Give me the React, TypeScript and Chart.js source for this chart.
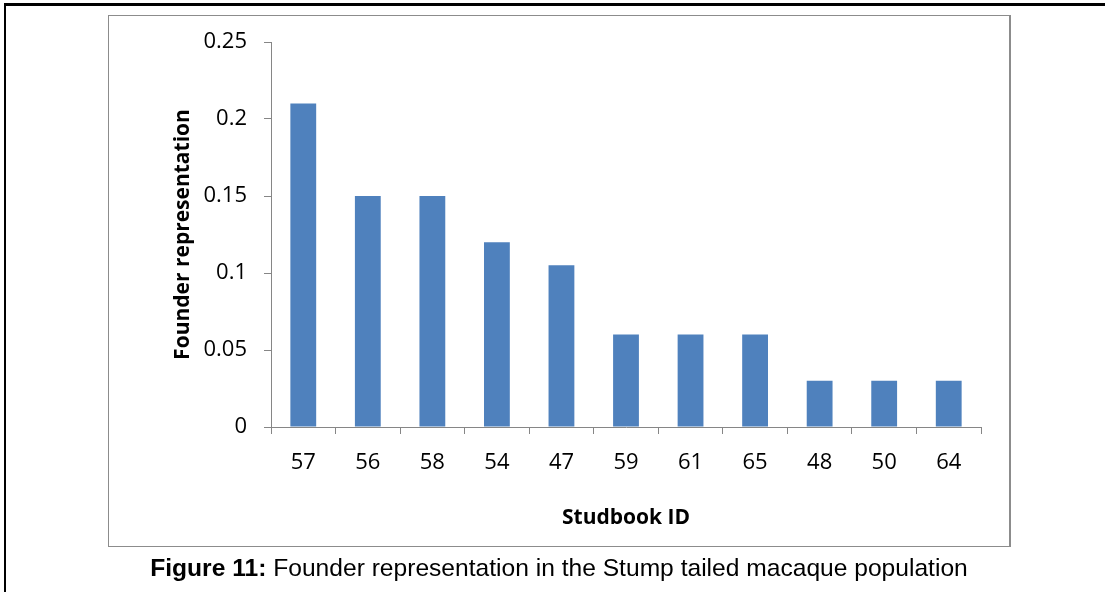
import React, { useEffect, useRef } from "react";
import { Chart, registerables } from "chart.js";

Chart.register(...registerables);

const categories = ["57", "56", "58", "54", "47", "59", "61", "65", "48", "50", "64"];
const founderValues = [0.21, 0.15, 0.15, 0.12, 0.105, 0.06, 0.06, 0.06, 0.03, 0.03, 0.03];
const yTickLabels = ["0", "0.05", "0.1", "0.15", "0.2", "0.25"];
const yAxisTitle = "Founder representation";
const xAxisTitle = "Studbook ID";
const captionBold = "Figure 11:";
const captionText = " Founder representation in the Stump tailed macaque population";

const AXIS = "#868686";
const TICK_FONT = { family: "'Open Sans', 'Noto Sans', sans-serif", size: 22 };
const TITLE_FONT = { family: "'Open Sans', 'Noto Sans', sans-serif", size: 21, weight: "bold" as const };

export default function App() {
  const ref = useRef<HTMLCanvasElement | null>(null);

  useEffect(() => {
    if (!ref.current) return;
    const chart = new Chart(ref.current, {
      type: "bar",
      data: {
        labels: categories,
        datasets: [
          {
            data: founderValues,
            backgroundColor: "#4F81BD",
            borderWidth: 0,
            barPercentage: 0.4,
            categoryPercentage: 1,
          },
        ],
      },
      options: {
        responsive: false,
        animation: false,
        layout: { padding: { left: 108, right: 124, top: 42, bottom: 46 } },
        plugins: { legend: { display: false }, tooltip: { enabled: false } },
        scales: {
          x: {
            grid: { drawOnChartArea: false, drawTicks: true, tickLength: 7, color: AXIS, offset: true },
            border: { display: true, color: AXIS, width: 1 },
            ticks: { color: "#000", font: TICK_FONT, padding: 16, maxRotation: 0 },
            title: { display: true, text: xAxisTitle, color: "#000", font: TITLE_FONT, padding: { top: 0, bottom: 15 } },
            afterFit: (s: any) => {
              s.height = 119;
              s.paddingLeft = 0;
              s.paddingRight = 0;
            },
          },
          y: {
            min: 0,
            max: 0.25,
            grid: { drawOnChartArea: false, drawTicks: true, tickLength: 7, color: AXIS },
            border: { display: true, color: AXIS, width: 1 },
            ticks: {
              stepSize: 0.05,
              color: "#000",
              font: TICK_FONT,
              padding: 17,
              callback: (_v: any, i: number) => yTickLabels[i],
            },
            title: { display: true, text: yAxisTitle, color: "#000", font: TITLE_FONT, padding: { top: 62, bottom: 0 } },
            afterFit: (s: any) => {
              s.width = 163;
              s.paddingTop = 0;
              s.paddingBottom = 0;
            },
          },
        },
      },
    });
    return () => chart.destroy();
  }, []);

  return (
    <div style={{ position: "fixed", left: 0, top: 0, width: 1105, height: 592, background: "#fff", overflow: "hidden" }}>
      <div
        style={{
          position: "absolute",
          left: 4,
          top: 3,
          width: 1110,
          height: 600,
          borderTop: "3px solid #000",
          borderLeft: "2px solid #000",
          boxSizing: "border-box",
        }}
      />
      <div
        style={{
          position: "absolute",
          left: 108,
          top: 15,
          width: 903,
          height: 532,
          borderTop: "1px solid #8c8c8c",
          borderLeft: "1px solid #8c8c8c",
          borderBottom: "1px solid #8c8c8c",
          borderRight: "2px solid #8c8c8c",
          boxSizing: "border-box",
        }}
      />
      <canvas ref={ref} width={1105} height={592} style={{ position: "absolute", left: 0, top: 0, width: 1105, height: 592 }} />
      <div
        style={{
          position: "absolute",
          left: 0,
          top: 552,
          width: 1118,
          textAlign: "center",
          whiteSpace: "nowrap",
          fontFamily: "'Liberation Sans Narrow', 'Arial Narrow', 'Liberation Sans', sans-serif",
          fontSize: 24.6,
          lineHeight: "32px",
          color: "#000",
        }}
      >
        <b>{captionBold}</b>
        {captionText}
      </div>
    </div>
  );
}
